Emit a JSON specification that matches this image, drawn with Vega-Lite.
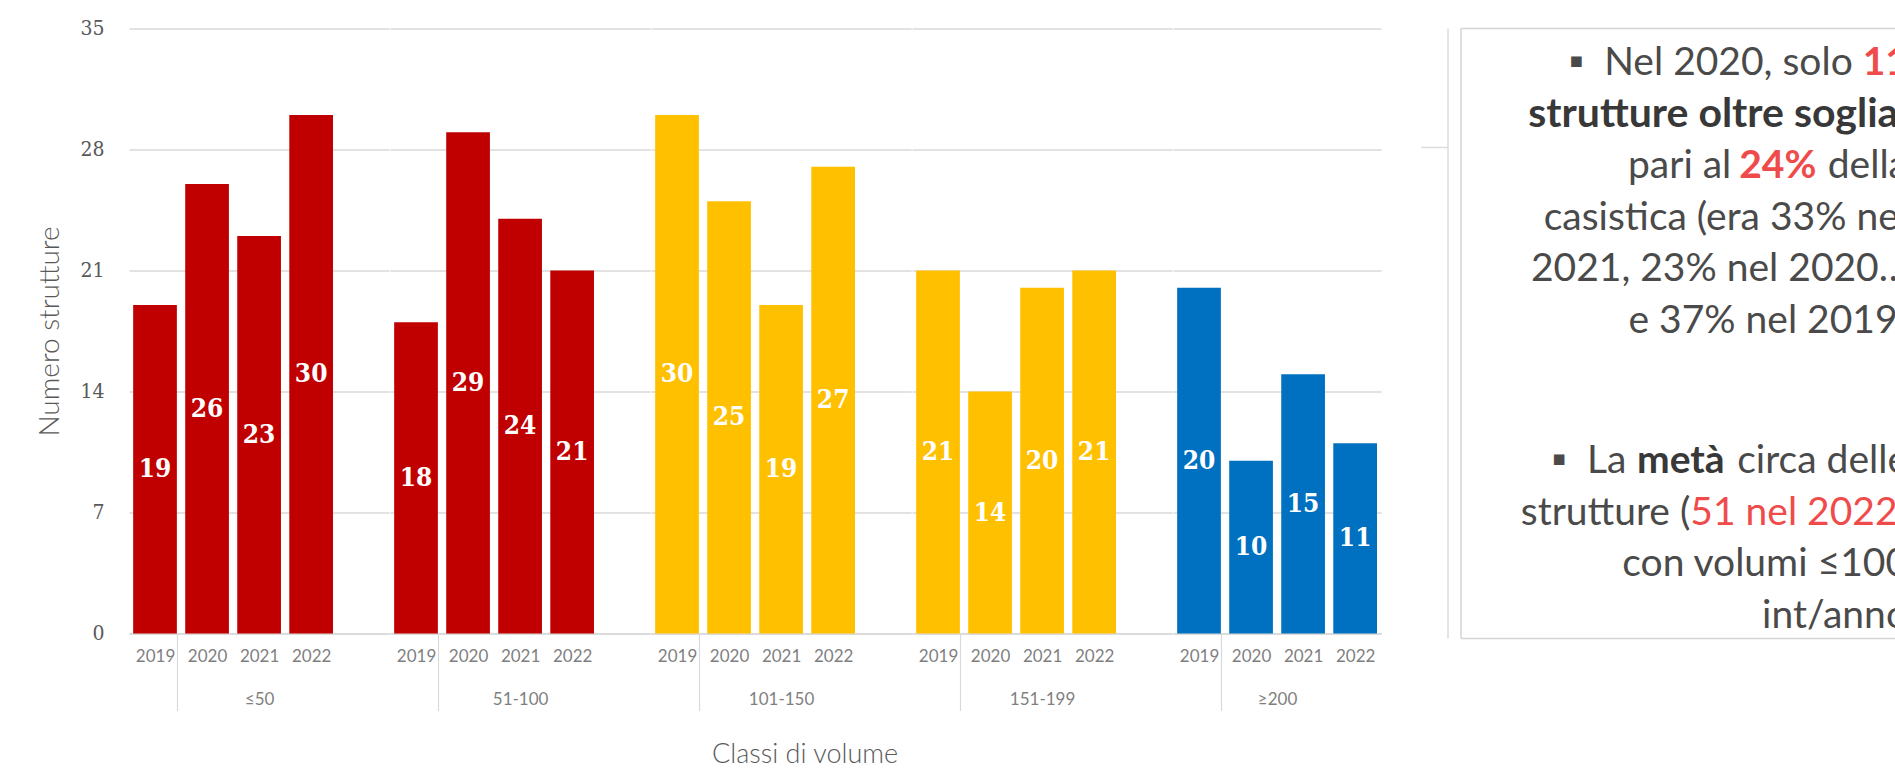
{
  "$schema": "https://vega.github.io/schema/vega-lite/v6.json",
  "background": "white",
  "padding": {"left": 36, "top": 17.5, "right": 0, "bottom": 0},
  "datasets": {
    "strutture": [
      {"classe": "≤50", "anno": "2019", "strutture": 19},
      {"classe": "≤50", "anno": "2020", "strutture": 26},
      {"classe": "≤50", "anno": "2021", "strutture": 23},
      {"classe": "≤50", "anno": "2022", "strutture": 30},
      {"classe": "51-100", "anno": "2019", "strutture": 18},
      {"classe": "51-100", "anno": "2020", "strutture": 29},
      {"classe": "51-100", "anno": "2021", "strutture": 24},
      {"classe": "51-100", "anno": "2022", "strutture": 21},
      {"classe": "101-150", "anno": "2019", "strutture": 30},
      {"classe": "101-150", "anno": "2020", "strutture": 25},
      {"classe": "101-150", "anno": "2021", "strutture": 19},
      {"classe": "101-150", "anno": "2022", "strutture": 27},
      {"classe": "151-199", "anno": "2019", "strutture": 21},
      {"classe": "151-199", "anno": "2020", "strutture": 14},
      {"classe": "151-199", "anno": "2021", "strutture": 20},
      {"classe": "151-199", "anno": "2022", "strutture": 21},
      {"classe": "≥200", "anno": "2019", "strutture": 20},
      {"classe": "≥200", "anno": "2020", "strutture": 10},
      {"classe": "≥200", "anno": "2021", "strutture": 15},
      {"classe": "≥200", "anno": "2022", "strutture": 11}
    ],
    "nota": [
      {"riga": 1, "livello": 0, "testo": "▪\u00a0\u00a0Nel 2020, solo 11", "enfasi": "nessuna"},
      {"riga": 1, "livello": 1, "testo": "11", "enfasi": "dato forte"},
      {"riga": 2, "livello": 0, "testo": "strutture oltre soglia,", "enfasi": "forte"},
      {"riga": 3, "livello": 0, "testo": "pari al 24% della", "enfasi": "nessuna"},
      {"riga": 3, "livello": 1, "testo": "24% della", "enfasi": "dato forte"},
      {"riga": 3, "livello": 2, "testo": " della", "enfasi": "nessuna"},
      {"riga": 4, "livello": 0, "testo": "casistica (era 33% nel", "enfasi": "nessuna"},
      {"riga": 5, "livello": 0, "testo": "2021, 23% nel 2020…", "enfasi": "nessuna"},
      {"riga": 6, "livello": 0, "testo": "e 37% nel 2019)", "enfasi": "nessuna"},
      {"riga": 8, "livello": 0, "testo": "▪\u00a0\u00a0La\u2009 metà circa delle", "enfasi": "nessuna"},
      {"riga": 8, "livello": 1, "testo": "metà circa delle", "enfasi": "forte"},
      {"riga": 8, "livello": 2, "testo": " circa delle", "enfasi": "nessuna"},
      {"riga": 9, "livello": 0, "testo": "strutture (51 nel 2022)", "enfasi": "nessuna"},
      {"riga": 9, "livello": 1, "testo": "51 nel 2022)", "enfasi": "dato"},
      {"riga": 9, "livello": 2, "testo": ")", "enfasi": "nessuna"},
      {"riga": 10, "livello": 0, "testo": "con volumi ≤100", "enfasi": "nessuna"},
      {"riga": 11, "livello": 0, "testo": "int/anno", "enfasi": "nessuna"}
    ]
  },
  "config": {
    "view": {"stroke": null},
    "font": "Lato",
    "axisX": {
      "labelAngle": 0,
      "labelFont": "Lato",
      "labelFontSize": 17,
      "labelColor": "#7f7f7f",
      "labelPadding": -62,
      "tickBand": "extent",
      "tickSize": 77,
      "tickColor": "#d9d9d9",
      "tickWidth": 1.2,
      "domainColor": "#d9d9d9",
      "domainWidth": 1.5,
      "grid": false,
      "titleFont": "Lato",
      "titleFontSize": 17,
      "titleFontWeight": "normal",
      "titleColor": "#7f7f7f",
      "titlePadding": -20
    },
    "axisY": {
      "grid": true,
      "gridColor": "#d9d9d9",
      "gridWidth": 1.5,
      "domain": false,
      "ticks": false,
      "labelFont": "DejaVu Serif Condensed, DejaVu Serif",
      "labelFontSize": 21,
      "labelColor": "#595959",
      "labelPadding": 25,
      "titleFont": "Lato",
      "titleFontSize": 28,
      "titleFontWeight": 300,
      "titleColor": "#595959",
      "titlePadding": 15
    }
  },
  "hconcat": [
    {
      "data": {"name": "strutture"},
      "spacing": 0,
      "title": {"text": "Classi di volume", "orient": "bottom", "anchor": "middle", "dx": 96, "offset": 31, "font": "Lato", "fontSize": 27, "fontWeight": 300, "color": "#595959"},
      "resolve": {"scale": {"x": "independent", "y": "independent"}, "axis": {"x": "independent", "y": "independent"}},
      "hconcat": [
        {
          "width": {"step": 52.04},
          "height": 605,
          "transform": [{"filter": {"field": "classe", "equal": "≤50"}}],
          "encoding": {
            "x": {"field": "anno", "type": "ordinal", "scale": {"domain": ["2019", "2020", "2021", "2022", ""], "paddingInner": 0.16, "paddingOuter": 0.08},
              "axis": {"title": "≤50", "tickOpacity": {"condition": {"test": "datum.value === '2019'", "value": 1}, "value": 0}}}
          },
          "layer": [
            {"mark": {"type": "bar"},
              "encoding": {
                "y": {"field": "strutture", "type": "quantitative", "scale": {"domain": [0, 35], "nice": false}, "axis": {"values": [0, 7, 14, 21, 28, 35], "title": "Numero strutture"}},
                "color": {"field": "classe", "type": "nominal", "scale": {"domain": ["≤50", "51-100", "101-150", "151-199", "≥200"], "range": ["#C00000", "#C00000", "#FFC000", "#FFC000", "#0070C0"]}, "legend": null}}},
            {"mark": {"type": "text", "baseline": "middle", "align": "center", "font": "DejaVu Serif Condensed, DejaVu Serif", "fontSize": 26, "fontWeight": "bold", "color": "white"},
              "encoding": {
                "y": {"field": "strutture", "type": "quantitative", "scale": {"domain": [0, 70], "nice": false}, "axis": null},
                "text": {"field": "strutture", "type": "quantitative"}}}
          ],
          "resolve": {"scale": {"y": "independent"}}
        },
        {
          "width": {"step": 52.04},
          "height": 605,
          "transform": [{"filter": {"field": "classe", "equal": "51-100"}}],
          "encoding": {
            "x": {"field": "anno", "type": "ordinal", "scale": {"domain": ["2019", "2020", "2021", "2022", ""], "paddingInner": 0.16, "paddingOuter": 0.08},
              "axis": {"title": "51-100", "tickOpacity": {"condition": {"test": "datum.value === '2019'", "value": 1}, "value": 0}}}
          },
          "layer": [
            {"mark": {"type": "bar"},
              "encoding": {
                "y": {"field": "strutture", "type": "quantitative", "scale": {"domain": [0, 35], "nice": false}, "axis": {"values": [0, 7, 14, 21, 28, 35], "labels": false, "title": null}},
                "color": {"field": "classe", "type": "nominal", "scale": {"domain": ["≤50", "51-100", "101-150", "151-199", "≥200"], "range": ["#C00000", "#C00000", "#FFC000", "#FFC000", "#0070C0"]}, "legend": null}}},
            {"mark": {"type": "text", "baseline": "middle", "align": "center", "font": "DejaVu Serif Condensed, DejaVu Serif", "fontSize": 26, "fontWeight": "bold", "color": "white"},
              "encoding": {
                "y": {"field": "strutture", "type": "quantitative", "scale": {"domain": [0, 70], "nice": false}, "axis": null},
                "text": {"field": "strutture", "type": "quantitative"}}}
          ],
          "resolve": {"scale": {"y": "independent"}}
        },
        {
          "width": {"step": 52.04},
          "height": 605,
          "transform": [{"filter": {"field": "classe", "equal": "101-150"}}],
          "encoding": {
            "x": {"field": "anno", "type": "ordinal", "scale": {"domain": ["2019", "2020", "2021", "2022", ""], "paddingInner": 0.16, "paddingOuter": 0.08},
              "axis": {"title": "101-150", "tickOpacity": {"condition": {"test": "datum.value === '2019'", "value": 1}, "value": 0}}}
          },
          "layer": [
            {"mark": {"type": "bar"},
              "encoding": {
                "y": {"field": "strutture", "type": "quantitative", "scale": {"domain": [0, 35], "nice": false}, "axis": {"values": [0, 7, 14, 21, 28, 35], "labels": false, "title": null}},
                "color": {"field": "classe", "type": "nominal", "scale": {"domain": ["≤50", "51-100", "101-150", "151-199", "≥200"], "range": ["#C00000", "#C00000", "#FFC000", "#FFC000", "#0070C0"]}, "legend": null}}},
            {"mark": {"type": "text", "baseline": "middle", "align": "center", "font": "DejaVu Serif Condensed, DejaVu Serif", "fontSize": 26, "fontWeight": "bold", "color": "white"},
              "encoding": {
                "y": {"field": "strutture", "type": "quantitative", "scale": {"domain": [0, 70], "nice": false}, "axis": null},
                "text": {"field": "strutture", "type": "quantitative"}}}
          ],
          "resolve": {"scale": {"y": "independent"}}
        },
        {
          "width": {"step": 52.04},
          "height": 605,
          "transform": [{"filter": {"field": "classe", "equal": "151-199"}}],
          "encoding": {
            "x": {"field": "anno", "type": "ordinal", "scale": {"domain": ["2019", "2020", "2021", "2022", ""], "paddingInner": 0.16, "paddingOuter": 0.08},
              "axis": {"title": "151-199", "tickOpacity": {"condition": {"test": "datum.value === '2019'", "value": 1}, "value": 0}}}
          },
          "layer": [
            {"mark": {"type": "bar"},
              "encoding": {
                "y": {"field": "strutture", "type": "quantitative", "scale": {"domain": [0, 35], "nice": false}, "axis": {"values": [0, 7, 14, 21, 28, 35], "labels": false, "title": null}},
                "color": {"field": "classe", "type": "nominal", "scale": {"domain": ["≤50", "51-100", "101-150", "151-199", "≥200"], "range": ["#C00000", "#C00000", "#FFC000", "#FFC000", "#0070C0"]}, "legend": null}}},
            {"mark": {"type": "text", "baseline": "middle", "align": "center", "font": "DejaVu Serif Condensed, DejaVu Serif", "fontSize": 26, "fontWeight": "bold", "color": "white"},
              "encoding": {
                "y": {"field": "strutture", "type": "quantitative", "scale": {"domain": [0, 70], "nice": false}, "axis": null},
                "text": {"field": "strutture", "type": "quantitative"}}}
          ],
          "resolve": {"scale": {"y": "independent"}}
        },
        {
          "width": {"step": 52.04},
          "height": 605,
          "transform": [{"filter": {"field": "classe", "equal": "≥200"}}],
          "encoding": {
            "x": {"field": "anno", "type": "ordinal", "scale": {"domain": ["2019", "2020", "2021", "2022"], "paddingInner": 0.16, "paddingOuter": 0.08},
              "axis": {"title": "≥200", "tickOpacity": {"condition": {"test": "datum.value === '2019'", "value": 1}, "value": 0}}}
          },
          "layer": [
            {"mark": {"type": "bar"},
              "encoding": {
                "y": {"field": "strutture", "type": "quantitative", "scale": {"domain": [0, 35], "nice": false}, "axis": {"values": [0, 7, 14, 21, 28, 35], "labels": false, "title": null}},
                "color": {"field": "classe", "type": "nominal", "scale": {"domain": ["≤50", "51-100", "101-150", "151-199", "≥200"], "range": ["#C00000", "#C00000", "#FFC000", "#FFC000", "#0070C0"]}, "legend": null}}},
            {"mark": {"type": "text", "baseline": "middle", "align": "center", "font": "DejaVu Serif Condensed, DejaVu Serif", "fontSize": 26, "fontWeight": "bold", "color": "white"},
              "encoding": {
                "y": {"field": "strutture", "type": "quantitative", "scale": {"domain": [0, 70], "nice": false}, "axis": null},
                "text": {"field": "strutture", "type": "quantitative"}}}
          ],
          "resolve": {"scale": {"y": "independent"}}
        }
      ]
    },
    {
      "width": 479,
      "height": 605,
      "layer": [
        {
          "data": {"values": [{}]},
          "mark": {"type": "rule", "color": "#dcdcdc", "strokeWidth": 1.5},
          "encoding": {
            "x": {"datum": 0.0564, "type": "quantitative", "scale": {"domain": [0, 1], "nice": false, "zero": false}, "axis": null},
            "y": {"datum": 0.0874, "type": "quantitative", "scale": {"domain": [0.0874, 6, 8, 11.1165], "range": [0, 304.5, 444.5, 605], "nice": false, "zero": false}, "axis": null},
            "y2": {"datum": 11.2136}
          }
        },
        {
          "data": {"values": [{}]},
          "mark": {"type": "rule", "color": "#dcdcdc", "strokeWidth": 1.5},
          "encoding": {
            "x": {"datum": 0, "type": "quantitative", "scale": {"domain": [0, 1], "nice": false, "zero": false}, "axis": null},
            "x2": {"datum": 0.0564},
            "y": {"datum": 2.398, "type": "quantitative", "scale": {"domain": [0.0874, 6, 8, 11.1165], "range": [0, 304.5, 444.5, 605], "nice": false, "zero": false}, "axis": null}
          }
        },
        {
          "data": {"values": [{}]},
          "mark": {"type": "rule", "color": "#d4d4d4", "strokeWidth": 1.5},
          "encoding": {
            "x": {"datum": 0.0835, "type": "quantitative", "scale": {"domain": [0, 1], "nice": false, "zero": false}, "axis": null},
            "y": {"datum": 0.0874, "type": "quantitative", "scale": {"domain": [0.0874, 6, 8, 11.1165], "range": [0, 304.5, 444.5, 605], "nice": false, "zero": false}, "axis": null},
            "y2": {"datum": 11.2136}
          }
        },
        {
          "data": {"values": [{"lato": "alto", "riga": 0.0874}, {"lato": "basso", "riga": 11.2136}]},
          "mark": {"type": "rule", "color": "#d4d4d4", "strokeWidth": 1.5},
          "encoding": {
            "x": {"datum": 0.0835, "type": "quantitative", "scale": {"domain": [0, 1], "nice": false, "zero": false}, "axis": null},
            "x2": {"datum": 1},
            "y": {"field": "riga", "type": "quantitative", "scale": {"domain": [0.0874, 6, 8, 11.1165], "range": [0, 304.5, 444.5, 605], "nice": false, "zero": false}, "axis": null}
          }
        },
        {
          "data": {"name": "nota"},
          "transform": [{"filter": "datum.livello === 0 && datum.enfasi !== 'forte' && datum.enfasi !== 'dato forte'"}],
          "mark": {"type": "text", "align": "right", "baseline": "alphabetic", "font": "Lato", "fontSize": 39, "clip": true},
          "encoding": {
            "x": {"datum": 1.0167, "type": "quantitative", "scale": {"domain": [0, 1], "nice": false, "zero": false}, "axis": null},
            "y": {"field": "riga", "type": "quantitative", "scale": {"domain": [0.0874, 6, 8, 11.1165], "range": [0, 304.5, 444.5, 605], "nice": false, "zero": false}, "axis": null},
            "text": {"field": "testo"},
            "color": {"field": "enfasi", "type": "nominal", "scale": {"domain": ["nessuna", "forte", "dato", "dato forte"], "range": ["#4a4a4a", "#383838", "#EF4B4B", "#EF4B4B"]}, "legend": null}
          }
        },
        {
          "data": {"name": "nota"},
          "transform": [{"filter": "datum.livello === 0 && (datum.enfasi === 'forte' || datum.enfasi === 'dato forte')"}],
          "mark": {"type": "text", "align": "right", "baseline": "alphabetic", "font": "Lato", "fontSize": 41, "fontWeight": "bold", "clip": true},
          "encoding": {
            "x": {"datum": 1.0167, "type": "quantitative", "scale": {"domain": [0, 1], "nice": false, "zero": false}, "axis": null},
            "y": {"field": "riga", "type": "quantitative", "scale": {"domain": [0.0874, 6, 8, 11.1165], "range": [0, 304.5, 444.5, 605], "nice": false, "zero": false}, "axis": null},
            "text": {"field": "testo"},
            "color": {"field": "enfasi", "type": "nominal", "scale": {"domain": ["nessuna", "forte", "dato", "dato forte"], "range": ["#4a4a4a", "#383838", "#EF4B4B", "#EF4B4B"]}, "legend": null}
          }
        },
        {
          "data": {"name": "nota"},
          "transform": [{"filter": "datum.livello === 1"}],
          "mark": {"type": "text", "align": "right", "baseline": "alphabetic", "font": "Lato", "fontSize": 39, "color": "white", "stroke": "white", "strokeWidth": 4, "clip": true},
          "encoding": {
            "x": {"datum": 1.0167, "type": "quantitative", "scale": {"domain": [0, 1], "nice": false, "zero": false}, "axis": null},
            "y": {"field": "riga", "type": "quantitative", "scale": {"domain": [0.0874, 6, 8, 11.1165], "range": [0, 304.5, 444.5, 605], "nice": false, "zero": false}, "axis": null},
            "text": {"field": "testo"}
          }
        },
        {
          "data": {"name": "nota"},
          "transform": [{"filter": "datum.livello === 1"}],
          "mark": {"type": "text", "align": "right", "baseline": "alphabetic", "font": "Lato", "fontSize": 39, "fontWeight": "bold", "color": "white", "stroke": "white", "strokeWidth": 4, "clip": true},
          "encoding": {
            "x": {"datum": 1.0167, "type": "quantitative", "scale": {"domain": [0, 1], "nice": false, "zero": false}, "axis": null},
            "y": {"field": "riga", "type": "quantitative", "scale": {"domain": [0.0874, 6, 8, 11.1165], "range": [0, 304.5, 444.5, 605], "nice": false, "zero": false}, "axis": null},
            "text": {"field": "testo"}
          }
        },
        {
          "data": {"name": "nota"},
          "transform": [{"filter": "datum.livello === 1 && datum.enfasi !== 'forte' && datum.enfasi !== 'dato forte'"}],
          "mark": {"type": "text", "align": "right", "baseline": "alphabetic", "font": "Lato", "fontSize": 39, "clip": true},
          "encoding": {
            "x": {"datum": 1.0167, "type": "quantitative", "scale": {"domain": [0, 1], "nice": false, "zero": false}, "axis": null},
            "y": {"field": "riga", "type": "quantitative", "scale": {"domain": [0.0874, 6, 8, 11.1165], "range": [0, 304.5, 444.5, 605], "nice": false, "zero": false}, "axis": null},
            "text": {"field": "testo"},
            "color": {"field": "enfasi", "type": "nominal", "scale": {"domain": ["nessuna", "forte", "dato", "dato forte"], "range": ["#4a4a4a", "#383838", "#EF4B4B", "#EF4B4B"]}, "legend": null}
          }
        },
        {
          "data": {"name": "nota"},
          "transform": [{"filter": "datum.livello === 1 && (datum.enfasi === 'forte' || datum.enfasi === 'dato forte')"}],
          "mark": {"type": "text", "align": "right", "baseline": "alphabetic", "font": "Lato", "fontSize": 39, "fontWeight": "bold", "clip": true},
          "encoding": {
            "x": {"datum": 1.0167, "type": "quantitative", "scale": {"domain": [0, 1], "nice": false, "zero": false}, "axis": null},
            "y": {"field": "riga", "type": "quantitative", "scale": {"domain": [0.0874, 6, 8, 11.1165], "range": [0, 304.5, 444.5, 605], "nice": false, "zero": false}, "axis": null},
            "text": {"field": "testo"},
            "color": {"field": "enfasi", "type": "nominal", "scale": {"domain": ["nessuna", "forte", "dato", "dato forte"], "range": ["#4a4a4a", "#383838", "#EF4B4B", "#EF4B4B"]}, "legend": null}
          }
        },
        {
          "data": {"name": "nota"},
          "transform": [{"filter": "datum.livello === 2"}],
          "mark": {"type": "text", "align": "right", "baseline": "alphabetic", "font": "Lato", "fontSize": 39, "color": "white", "stroke": "white", "strokeWidth": 4, "clip": true},
          "encoding": {
            "x": {"datum": 1.0167, "type": "quantitative", "scale": {"domain": [0, 1], "nice": false, "zero": false}, "axis": null},
            "y": {"field": "riga", "type": "quantitative", "scale": {"domain": [0.0874, 6, 8, 11.1165], "range": [0, 304.5, 444.5, 605], "nice": false, "zero": false}, "axis": null},
            "text": {"field": "testo"}
          }
        },
        {
          "data": {"name": "nota"},
          "transform": [{"filter": "datum.livello === 2"}],
          "mark": {"type": "text", "align": "right", "baseline": "alphabetic", "font": "Lato", "fontSize": 39, "fontWeight": "bold", "color": "white", "stroke": "white", "strokeWidth": 4, "clip": true},
          "encoding": {
            "x": {"datum": 1.0167, "type": "quantitative", "scale": {"domain": [0, 1], "nice": false, "zero": false}, "axis": null},
            "y": {"field": "riga", "type": "quantitative", "scale": {"domain": [0.0874, 6, 8, 11.1165], "range": [0, 304.5, 444.5, 605], "nice": false, "zero": false}, "axis": null},
            "text": {"field": "testo"}
          }
        },
        {
          "data": {"name": "nota"},
          "transform": [{"filter": "datum.livello === 2"}],
          "mark": {"type": "text", "align": "right", "baseline": "alphabetic", "font": "Lato", "fontSize": 39, "clip": true},
          "encoding": {
            "x": {"datum": 1.0167, "type": "quantitative", "scale": {"domain": [0, 1], "nice": false, "zero": false}, "axis": null},
            "y": {"field": "riga", "type": "quantitative", "scale": {"domain": [0.0874, 6, 8, 11.1165], "range": [0, 304.5, 444.5, 605], "nice": false, "zero": false}, "axis": null},
            "text": {"field": "testo"},
            "color": {"field": "enfasi", "type": "nominal", "scale": {"domain": ["nessuna", "forte", "dato", "dato forte"], "range": ["#4a4a4a", "#383838", "#EF4B4B", "#EF4B4B"]}, "legend": null}
          }
        }
      ]
    }
  ],
  "spacing": 38,
  "resolve": {"scale": {"x": "independent", "y": "independent", "color": "independent"}, "axis": {"x": "independent", "y": "independent"}}
}
